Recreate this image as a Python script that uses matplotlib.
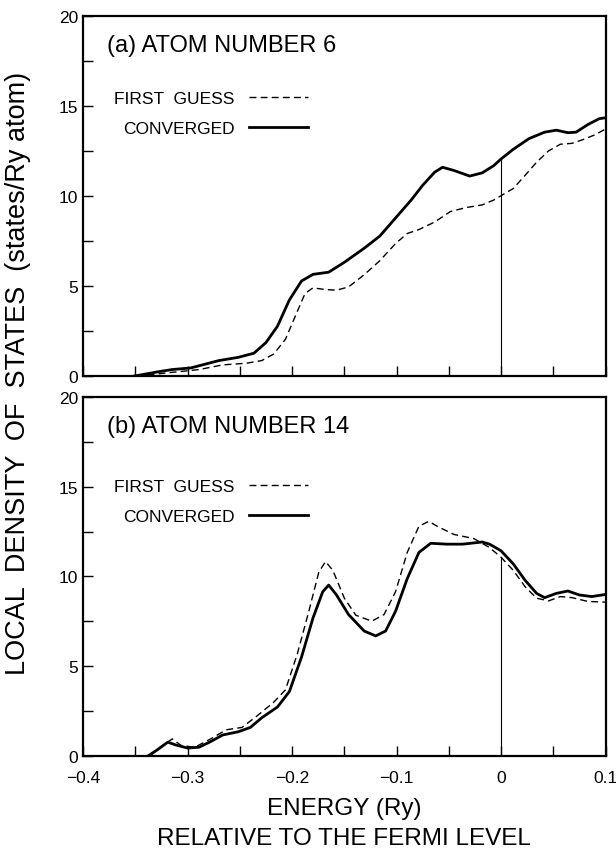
import matplotlib.pyplot as plt
from matplotlib.ticker import MultipleLocator

plt.rcParams['font.family'] = ['Liberation Sans', 'DejaVu Sans']

# panel (a) atom number 6
e_conv_a = [-0.351, -0.327, -0.315, -0.297, -0.270, -0.2515, -0.2365, -0.225, -0.214,
            -0.2026, -0.191, -0.180, -0.165, -0.150, -0.131, -0.116, -0.101, -0.086,
            -0.075, -0.0635, -0.056, -0.045, -0.030, -0.018, -0.007, 0.0, 0.0117,
            0.0267, 0.0417, 0.053, 0.064, 0.0718, 0.083, 0.094, 0.1]
dos_conv_a = [0.0, 0.25, 0.36, 0.45, 0.86, 1.04, 1.27, 1.86, 2.77,
              4.23, 5.28, 5.65, 5.77, 6.32, 7.10, 7.78, 8.78, 9.78,
              10.6, 11.33, 11.6, 11.42, 11.11, 11.29, 11.69, 12.06, 12.6,
              13.19, 13.55, 13.66, 13.52, 13.55, 13.97, 14.3, 14.35]

e_guess_a = [-0.349, -0.319, -0.289, -0.2665, -0.244, -0.229, -0.2177, -0.2064, -0.197,
             -0.1876, -0.180, -0.169, -0.1575, -0.146, -0.131, -0.116, -0.101, -0.0898,
             -0.0786, -0.0635, -0.0485, -0.0335, -0.018, -0.007, 0.0, 0.0117, 0.023,
             0.034, 0.0455, 0.0568, 0.068, 0.079, 0.0906, 0.1]
dos_guess_a = [0.0, 0.18, 0.36, 0.62, 0.71, 0.86, 1.22, 2.04, 3.32,
               4.59, 4.9, 4.81, 4.77, 4.95, 5.63, 6.41, 7.36, 7.92,
               8.14, 8.56, 9.14, 9.36, 9.51, 9.78, 10.02, 10.42, 11.15,
               11.88, 12.51, 12.88, 12.93, 13.15, 13.42, 13.73]

# panel (b) atom number 14
e_conv_b = [-0.338, -0.3286, -0.319, -0.3117, -0.300, -0.289, -0.278, -0.2665, -0.2515,
            -0.240, -0.229, -0.214, -0.2026, -0.191, -0.180, -0.1707, -0.165, -0.1575,
            -0.146, -0.131, -0.120, -0.1105, -0.101, -0.0898, -0.0786, -0.0673, -0.052,
            -0.037, -0.018, -0.011, 0.0, 0.0117, 0.023, 0.034, 0.0417, 0.053, 0.064,
            0.075, 0.0868, 0.1]
dos_conv_b = [0.0, 0.36, 0.77, 0.62, 0.44, 0.49, 0.80, 1.17, 1.35,
              1.59, 2.13, 2.73, 3.59, 5.51, 7.69, 9.15, 9.52, 8.97,
              7.88, 6.96, 6.69, 6.96, 8.06, 9.88, 11.34, 11.85, 11.80,
              11.80, 11.92, 11.80, 11.43, 10.70, 9.79, 9.06, 8.82, 9.06, 9.19,
              8.97, 8.88, 9.0]

e_guess_b = [-0.336, -0.325, -0.3147, -0.306, -0.293, -0.278, -0.263, -0.248, -0.233,
             -0.2177, -0.2064, -0.195, -0.184, -0.1744, -0.168, -0.161, -0.150, -0.139,
             -0.1237, -0.112, -0.101, -0.0898, -0.0786, -0.0692, -0.060, -0.045, -0.026,
             -0.011, 0.0, 0.0117, 0.023, 0.034, 0.0455, 0.0568, 0.068, 0.083, 0.1]
dos_guess_b = [0.0, 0.55, 0.95, 0.58, 0.49, 0.95, 1.46, 1.59, 2.26,
               2.99, 3.68, 5.69, 8.06, 10.25, 10.83, 10.34, 8.79, 7.84,
               7.51, 7.88, 9.15, 11.34, 12.80, 13.07, 12.76, 12.34, 12.11,
               11.61, 11.07, 10.34, 9.43, 8.79, 8.64, 8.88, 8.82, 8.61, 8.57]

panels = [
    ('(a) ATOM NUMBER 6', e_guess_a, dos_guess_a, e_conv_a, dos_conv_a,
     dos_conv_a[e_conv_a.index(0.0)], 0.835),
    ('(b) ATOM NUMBER 14', e_guess_b, dos_guess_b, e_conv_b, dos_conv_b,
     dos_guess_b[e_guess_b.index(0.0)], 0.815),
]

fig = plt.figure(figsize=(6.16, 8.54), dpi=100)
ax_a = fig.add_axes([0.135, 0.5585, 0.848, 0.4215])
ax_b = fig.add_axes([0.135, 0.1136, 0.848, 0.4204])

for ax, (title, eg, dg, ec, dc, fermi_top, leg_y) in zip([ax_a, ax_b], panels):
    ax.plot(eg, dg, color='black', lw=1.0, dashes=(5, 3), label='FIRST  GUESS')
    ax.plot(ec, dc, color='black', lw=2.0, label='CONVERGED')
    ax.vlines(0.0, 0, fermi_top, color='black', lw=0.8)
    ax.set_xlim(-0.4, 0.1)
    ax.set_ylim(0, 20)
    ax.xaxis.set_major_locator(MultipleLocator(0.1))
    ax.xaxis.set_minor_locator(MultipleLocator(0.05))
    ax.yaxis.set_major_locator(MultipleLocator(5))
    ax.yaxis.set_minor_locator(MultipleLocator(2.5))
    ax.tick_params(which='both', direction='in', length=7, width=1.0,
                   top=False, right=False, labelsize=12.5)
    ax.tick_params(axis='x', pad=10)
    for s in ax.spines.values():
        s.set_linewidth(1.6)
    ax.text(0.045, 0.92, title, transform=ax.transAxes, fontsize=17,
            va='center', ha='left')
    ax.legend(loc='upper left', bbox_to_anchor=(0.03, leg_y), frameon=False,
              markerfirst=False, fontsize=12.5, handlelength=3.4,
              handletextpad=0.8, labelspacing=0.85)

ax_a.tick_params(labelbottom=False)
ax_b.set_xticks([-0.4, -0.3, -0.2, -0.1, 0.0, 0.1])
ax_b.set_xticklabels(['\u22120.4', '\u22120.3', '\u22120.2', '\u22120.1', '0', '0.1'])
ax_b.set_xlabel('ENERGY (Ry)\nRELATIVE TO THE FERMI LEVEL', fontsize=17.5,
                linespacing=1.45, labelpad=9)
fig.text(0.03, 0.563, 'LOCAL  DENSITY  OF  STATES  (states/Ry atom)', rotation=90,
         fontsize=19.5, va='center', ha='center')

fig.savefig('out.png', dpi=100)
